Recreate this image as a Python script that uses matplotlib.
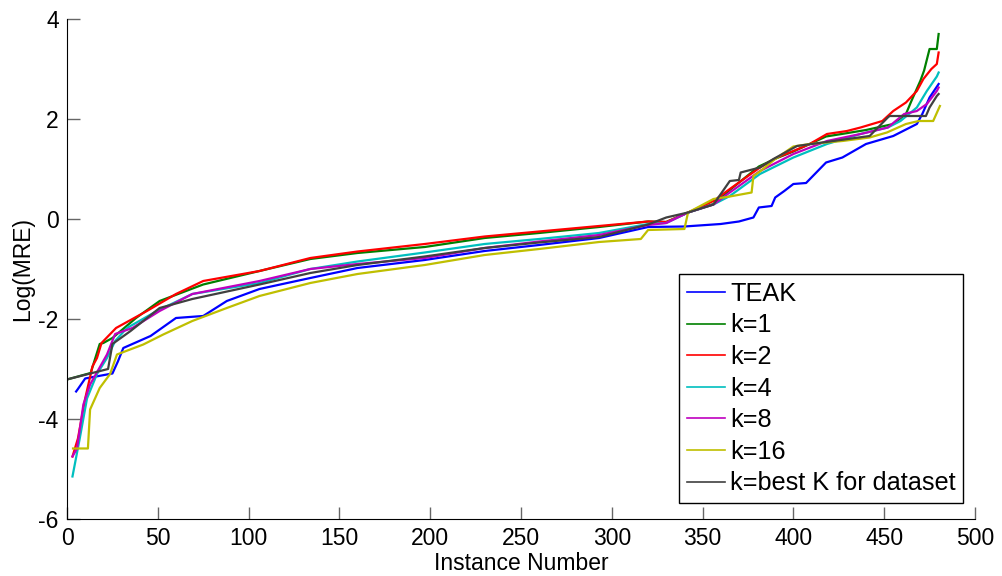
import matplotlib
matplotlib.use("Agg")
import matplotlib.pyplot as plt

plt.rcParams["font.family"] = ["Liberation Sans", "DejaVu Sans"]
plt.rcParams["axes.unicode_minus"] = False

# sorted log(MRE) per instance
teak_x = [5, 6, 10, 25, 28, 31, 46, 60, 75, 88, 106, 134, 160, 197, 230, 260, 293, 320, 340, 360,
          370, 375, 378, 381, 388, 390, 395, 400, 407, 418, 427, 440, 455, 468, 471, 475, 480]
teak_y = [-3.45, -3.4, -3.19, -3.09, -2.85, -2.58, -2.34, -1.98, -1.94, -1.64, -1.40, -1.18, -0.98,
          -0.82, -0.64, -0.52, -0.38, -0.16, -0.15, -0.10, -0.05, 0.0, 0.03, 0.23, 0.26, 0.43, 0.56,
          0.70, 0.72, 1.13, 1.23, 1.50, 1.66, 1.90, 2.10, 2.43, 2.70]

k1_x = [1, 13, 18, 20, 25, 38, 51, 75, 106, 134, 160, 197, 230, 260, 293, 320, 330, 342, 356, 365,
        381, 391, 400, 409, 418, 430, 440, 455, 462, 465, 470, 472, 475, 479, 480]
k1_y = [-3.2, -3.08, -2.5, -2.48, -2.38, -1.98, -1.64, -1.31, -1.04, -0.80, -0.68, -0.56, -0.38,
        -0.28, -0.16, -0.05, -0.06, 0.13, 0.30, 0.58, 1.05, 1.22, 1.35, 1.5, 1.65, 1.72, 1.78, 1.9,
        2.1, 2.36, 2.77, 2.97, 3.4, 3.4, 3.70]

k2_x = [3, 6, 10, 14, 16.5, 19, 27, 31, 44, 60, 75, 106, 134, 160, 197, 230, 260, 293, 320, 330,
        342, 356, 365, 381.6, 391, 400, 409, 418.5, 429.5, 437, 449, 455, 462, 468, 471.6, 476, 479, 480]
k2_y = [-4.75, -4.39, -3.59, -2.95, -2.78, -2.48, -2.18, -2.1, -1.84, -1.5, -1.24, -1.04, -0.78,
        -0.65, -0.50, -0.35, -0.25, -0.14, -0.05, -0.06, 0.13, 0.36, 0.60, 1.03, 1.23, 1.36, 1.50,
        1.70, 1.76, 1.83, 1.96, 2.16, 2.33, 2.56, 2.8, 3.0, 3.1, 3.33]

k4_x = [3, 7, 11, 16.5, 22, 26.5, 33, 49.5, 69, 106, 134, 160, 197, 230, 260, 293, 320, 330, 342,
        356, 365, 381.6, 400, 418.5, 437, 452, 459, 468, 473.5, 479, 480]
k4_y = [-5.15, -4.39, -3.59, -3.1, -2.78, -2.44, -2.18, -1.84, -1.5, -1.28, -1.0, -0.85, -0.67,
        -0.50, -0.40, -0.28, -0.10, -0.08, 0.13, 0.29, 0.46, 0.90, 1.23, 1.50, 1.70, 1.83, 1.96,
        2.23, 2.56, 2.85, 2.93]

k8_x = [3, 5.5, 9, 12.7, 22, 26.5, 36, 51, 69, 106, 134, 160, 197, 230, 260, 293, 320, 330, 342,
        356, 365, 381.6, 400, 418.5, 437, 452, 461, 468, 473.5, 479, 480]
k8_y = [-4.75, -4.59, -3.71, -3.31, -2.71, -2.3, -2.18, -1.84, -1.5, -1.24, -1.0, -0.9, -0.78,
        -0.58, -0.45, -0.32, -0.12, -0.08, 0.13, 0.29, 0.53, 0.96, 1.30, 1.56, 1.70, 1.83, 2.10,
        2.16, 2.30, 2.56, 2.63]

k16_x = [3.3, 11.5, 12.7, 18, 23.7, 27.5, 42, 53, 69, 88, 106, 134, 160, 197, 230, 260, 293, 316,
         320, 340, 342, 356, 365, 377, 378, 381.6, 390, 400, 409, 427, 442, 451.5, 462, 469, 477, 480.7]
k16_y = [-4.59, -4.59, -3.81, -3.38, -3.1, -2.71, -2.51, -2.31, -2.04, -1.78, -1.54, -1.28, -1.1,
         -0.92, -0.72, -0.60, -0.46, -0.40, -0.22, -0.20, 0.13, 0.40, 0.45, 0.53, 0.86, 0.95, 1.2,
         1.45, 1.50, 1.56, 1.63, 1.73, 1.90, 1.96, 1.96, 2.26]

best_x = [1, 22.6, 25, 35, 51, 69, 106, 134, 160, 197, 230, 260, 293, 320, 330, 342, 356, 365, 370,
          371, 381.6, 389, 402, 422, 442, 452, 453, 473, 475, 479, 480]
best_y = [-3.2, -3.0, -2.5, -2.24, -1.78, -1.6, -1.31, -1.08, -0.92, -0.75, -0.58, -0.47, -0.36,
          -0.11, 0.03, 0.13, 0.29, 0.76, 0.78, 0.93, 1.03, 1.2, 1.46, 1.56, 1.66, 2.03, 2.06, 2.06,
          2.23, 2.46, 2.50]

labels = ["TEAK", "k=1", "k=2", "k=4", "k=8", "k=16", "k=best K for dataset"]

#%%
fig = plt.figure(figsize=(10.02, 5.76), dpi=100)
ax = fig.add_axes([0.0669, 0.099, 0.9061, 0.868])

ax.plot(teak_x, teak_y, color=(0, 0, 1), lw=1.6, label=labels[0])
ax.plot(k1_x, k1_y, color=(0, 0.5, 0), lw=1.6, label=labels[1])
ax.plot(k2_x, k2_y, color=(1, 0, 0), lw=1.6, label=labels[2])
ax.plot(k4_x, k4_y, color=(0, 0.75, 0.75), lw=1.6, label=labels[3])
ax.plot(k8_x, k8_y, color=(0.75, 0, 0.75), lw=1.6, label=labels[4])
ax.plot(k16_x, k16_y, color=(0.75, 0.75, 0), lw=1.6, label=labels[5])
ax.plot(best_x, best_y, color=(0.25, 0.25, 0.25), lw=1.6, label=labels[6])

ax.set_xlim(0, 500)
ax.set_ylim(-6, 4)
ax.set_xticks(range(0, 501, 50))
ax.set_yticks(range(-6, 5, 2))
ax.spines["top"].set_visible(False)
ax.spines["right"].set_visible(False)
ax.tick_params(direction="in", length=9, width=1, color="0.4", labelsize=16.5, pad=6)
ax.set_xlabel("Instance Number", fontsize=16.5, labelpad=1)
ax.set_ylabel("Log(MRE)", fontsize=16.5, labelpad=3)

leg = ax.legend(loc="lower right", bbox_to_anchor=(0.987, 0.032), fontsize=18.2,
                handlelength=1.5, handletextpad=0.2, labelspacing=0.3, borderpad=0.3,
                borderaxespad=0, fancybox=False, framealpha=1)
leg.get_frame().set_edgecolor("black")
for line in leg.get_lines():
    line.set_linewidth(1.2)

fig.savefig("out.png", dpi=100)
